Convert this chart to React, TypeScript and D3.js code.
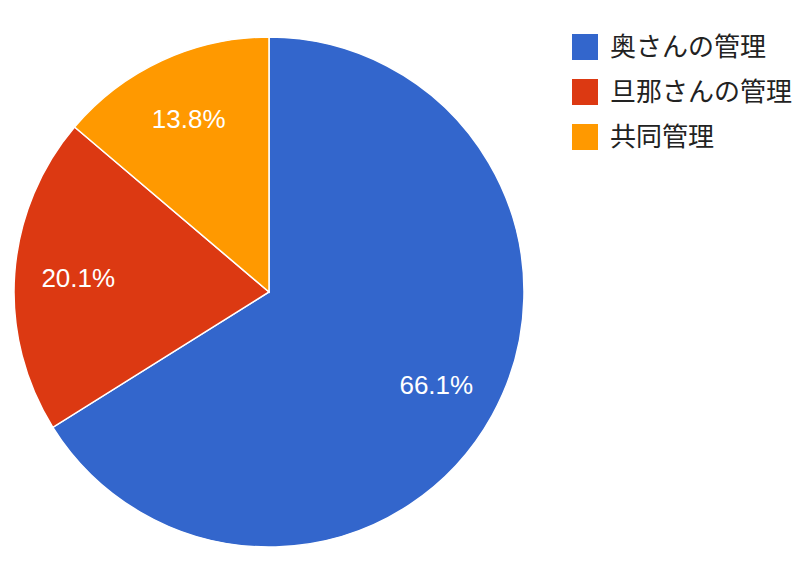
import * as d3 from 'd3';

const labels = ['奥さんの管理', '旦那さんの管理', '共同管理'];
const values = [66.1, 20.1, 13.8];
const colors = ['#3366cc', '#dc3912', '#ff9900'];

const WIDTH = 800;
const HEIGHT = 587;
const CENTER = { x: 269, y: 292 };
const RADIUS = 255;

const App = () => {
    const pie = d3.pie<number>().sort(null).value((d) => d);
    const arcs = pie(values);
    const arc = d3.arc<d3.PieArcDatum<number>>().innerRadius(0).outerRadius(RADIUS);
    const labelArc = d3.arc<d3.PieArcDatum<number>>().innerRadius(RADIUS * 0.75).outerRadius(RADIUS * 0.75);

    return (
        <svg width={WIDTH} height={HEIGHT} style={{ position: 'absolute', left: 0, top: 0, fontFamily: 'Arial, "Liberation Sans", "Noto Sans CJK JP", sans-serif' }}>
            <rect width={WIDTH} height={HEIGHT} fill="#fff" />
            <g transform={`translate(${CENTER.x}, ${CENTER.y})`}>
                {arcs.map((a, i) => (
                    <path key={i} d={arc(a) || ''} fill={colors[i]} stroke="#fff" strokeWidth={1.5} />
                ))}
                {arcs.map((a, i) => {
                    const [lx, ly] = labelArc.centroid(a);
                    return (
                        <text key={i} x={lx} y={ly} dy="0.35em" textAnchor="middle" fill="#fff" fontSize={26}>
                            {values[i].toFixed(1)}%
                        </text>
                    );
                })}
            </g>
            {/* legend */}
            <g transform="translate(572, 34)">
                {labels.map((l, i) => (
                    <g key={i} transform={`translate(0, ${i * 45})`}>
                        <rect width={26} height={26} fill={colors[i]} />
                        <text x={38} y={13} dy="0.36em" fontSize={26} fill="#222"
                            style={{ fontFamily: '"Noto Sans CJK JP", sans-serif' }}>{l}</text>
                    </g>
                ))}
            </g>
        </svg>
    );
};

export default App;
